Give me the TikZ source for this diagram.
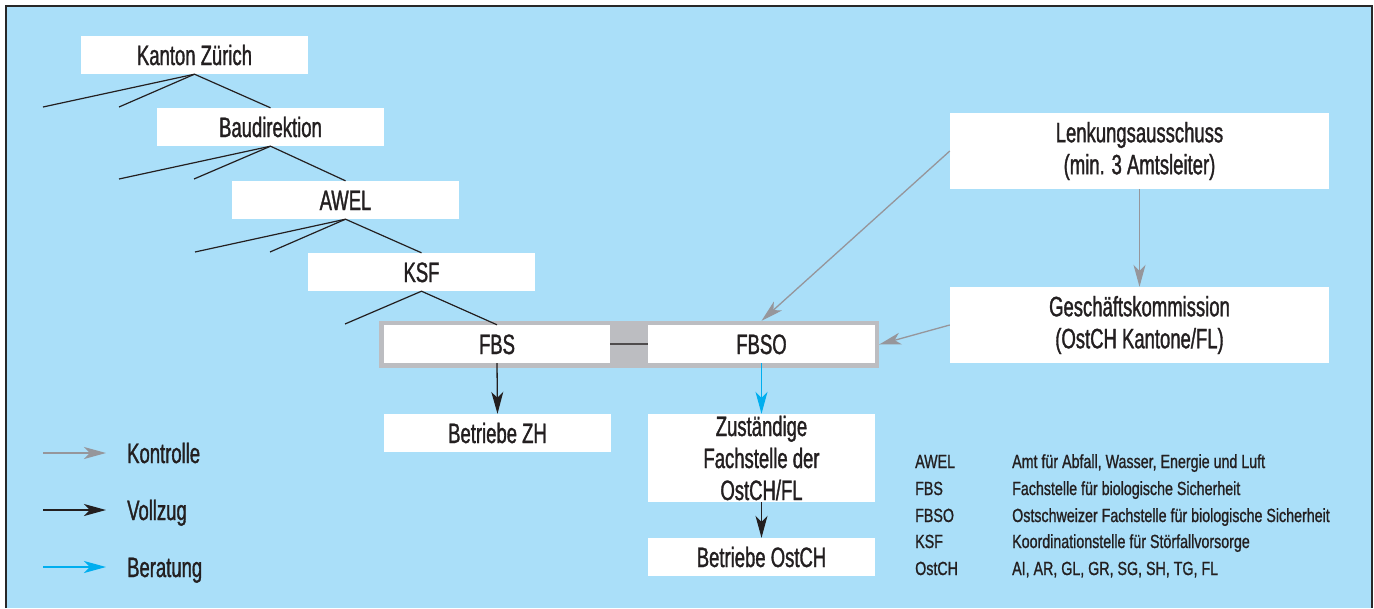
\documentclass[tikz,border=0pt]{standalone}
\usepackage{fontspec}
\setmainfont{Liberation Sans}[FakeStretch=0.66, FakeBold=1.2]
\newfontfamily\abbrfont{Liberation Sans}[FakeStretch=0.75, FakeBold=1.0]
\usetikzlibrary{arrows.meta}
\definecolor{bgblue}{RGB}{170,223,249}
\definecolor{bordercol}{RGB}{40,40,40}
\definecolor{ctrlgray}{RGB}{150,150,155}
\definecolor{framegray}{RGB}{188,189,193}
\definecolor{advblue}{RGB}{0,174,239}
\definecolor{txt}{RGB}{35,31,32}
\tikzset{
  box/.style={fill=white, draw=none, inner sep=0pt, minimum width=227pt, minimum height=38pt,
    font=\fontsize{28}{32}\selectfont, text=txt, align=center},
  onebox/.style={box, text height=20pt, text depth=0pt},
  treeline/.style={draw=txt, line width=1.2pt},
  tip/.style={-{Stealth[length=22pt,width=12pt,inset=6pt]}},
  ctrl/.style={tip, draw=ctrlgray, fill=ctrlgray, line width=1.3pt},
  exec/.style={tip, draw=txt, fill=txt, line width=1.3pt},
  advice/.style={tip, draw=advblue, fill=advblue, line width=1.3pt},
  legtxt/.style={inner sep=0pt, font=\fontsize{28}{32}\selectfont, text=txt},
  abbr/.style={inner sep=0pt, font=\abbrfont\fontsize{19}{23}\selectfont, text=txt, anchor=base west}
}
\begin{document}
\begin{tikzpicture}[x=1pt,y=-1pt]
\useasboundingbox (0,0) rectangle (1374,608);
\fill[bgblue] (6,6) rectangle (1372,608);
\draw[bordercol, line width=1.6pt] (6,608) -- (6,6) -- (1372,6) -- (1372,608);

% hierarchy
\node[onebox] (kz) at (194.5,55) {Kanton Zürich};
\node[onebox] (bd) at (270.5,127) {Baudirektion};
\node[onebox] (awel) at (345.5,200) {AWEL};
\node[onebox] (ksf) at (421.5,272) {KSF};

\node[fill=framegray, inner sep=0pt, minimum width=500pt, minimum height=47pt] (frame) at (629,344.5) {};
\node[onebox, minimum width=226pt] (fbs) at (497,344) {FBS};
\node[onebox] (fbso) at (761.5,344) {FBSO};

\node[onebox] (bzh) at (497.5,433) {Betriebe ZH};
\node[box, minimum height=88pt] (zust) at (761.5,458) {Zuständige\\Fachstelle der\\OstCH/FL};
\node[onebox] (bost) at (761.5,557) {Betriebe OstCH};

\node[box, minimum width=379pt, minimum height=76pt] (lenk) at (1139.5,151) {Lenkungsausschuss\\(min. 3 Amtsleiter)};
\node[box, minimum width=379pt, minimum height=76pt] (gesch) at (1139.5,325) {Geschäftskommission\\(OstCH Kantone/FL)};

% tree lines
\coordinate (kz1) at (43,107);
\coordinate (kz2) at (119,107);
\draw[treeline] (kz1) -- (kz.south) -- (bd.north);
\draw[treeline] (kz2) -- (kz.south);
\coordinate (bd1) at (119,179);
\coordinate (bd2) at (194,179);
\draw[treeline] (bd1) -- (bd.south) -- (awel.north);
\draw[treeline] (bd2) -- (bd.south);
\coordinate (aw1) at (195,252);
\coordinate (aw2) at (270,252);
\draw[treeline] (aw1) -- (awel.south) -- (ksf.north);
\draw[treeline] (aw2) -- (awel.south);
\coordinate (ks1) at (345,324);
\draw[treeline] (ks1) -- (ksf.south) -- (fbs.north);

% link FBS - FBSO
\draw[draw=txt!80, line width=1.3pt] (fbs.east) -- (fbso.west);

% arrows
\draw[ctrl] (lenk.west) -- (fbso.north |- frame.north);
\draw[ctrl] (gesch.west) -- (frame.east);
\draw[ctrl] (lenk.south) -- (gesch.north);
\draw[exec] (fbs.south) -- (bzh.north);
\draw[advice] (fbso.south) -- (zust.north);
\draw[exec] (zust.south) -- (bost.north);

% legend
\node[legtxt, anchor=base west] (lk) at (127,463) {Kontrolle};
\node[legtxt, anchor=base west] (lv) at (127,520) {Vollzug};
\node[legtxt, anchor=base west] (lb) at (127,577) {Beratung};
\coordinate (la1) at (43,453);
\coordinate (la2) at (43,510);
\coordinate (la3) at (43,567);
\draw[ctrl, shorten >=21pt] (la1) -- (la1 -| lk.west);
\draw[exec, shorten >=21pt] (la2) -- (la2 -| lv.west);
\draw[advice, shorten >=21pt] (la3) -- (la3 -| lb.west);

% abbreviations
\node[abbr] (a1) at (915,468) {AWEL};
\node[abbr] (a2) at (915,495) {FBS};
\node[abbr] (a3) at (915,522) {FBSO};
\node[abbr] (a4) at (915,548) {KSF};
\node[abbr] (a5) at (915,575) {OstCH};
\node[abbr] (d1) at (1012,468) {Amt für Abfall, Wasser, Energie und Luft};
\node[abbr] (d2) at (1012,495) {Fachstelle für biologische Sicherheit};
\node[abbr] (d3) at (1012,522) {Ostschweizer Fachstelle für biologische Sicherheit};
\node[abbr] (d4) at (1012,548) {Koordinationstelle für Störfallvorsorge};
\node[abbr] (d5) at (1012,575) {AI, AR, GL, GR, SG, SH, TG, FL};
\end{tikzpicture}
\end{document}
